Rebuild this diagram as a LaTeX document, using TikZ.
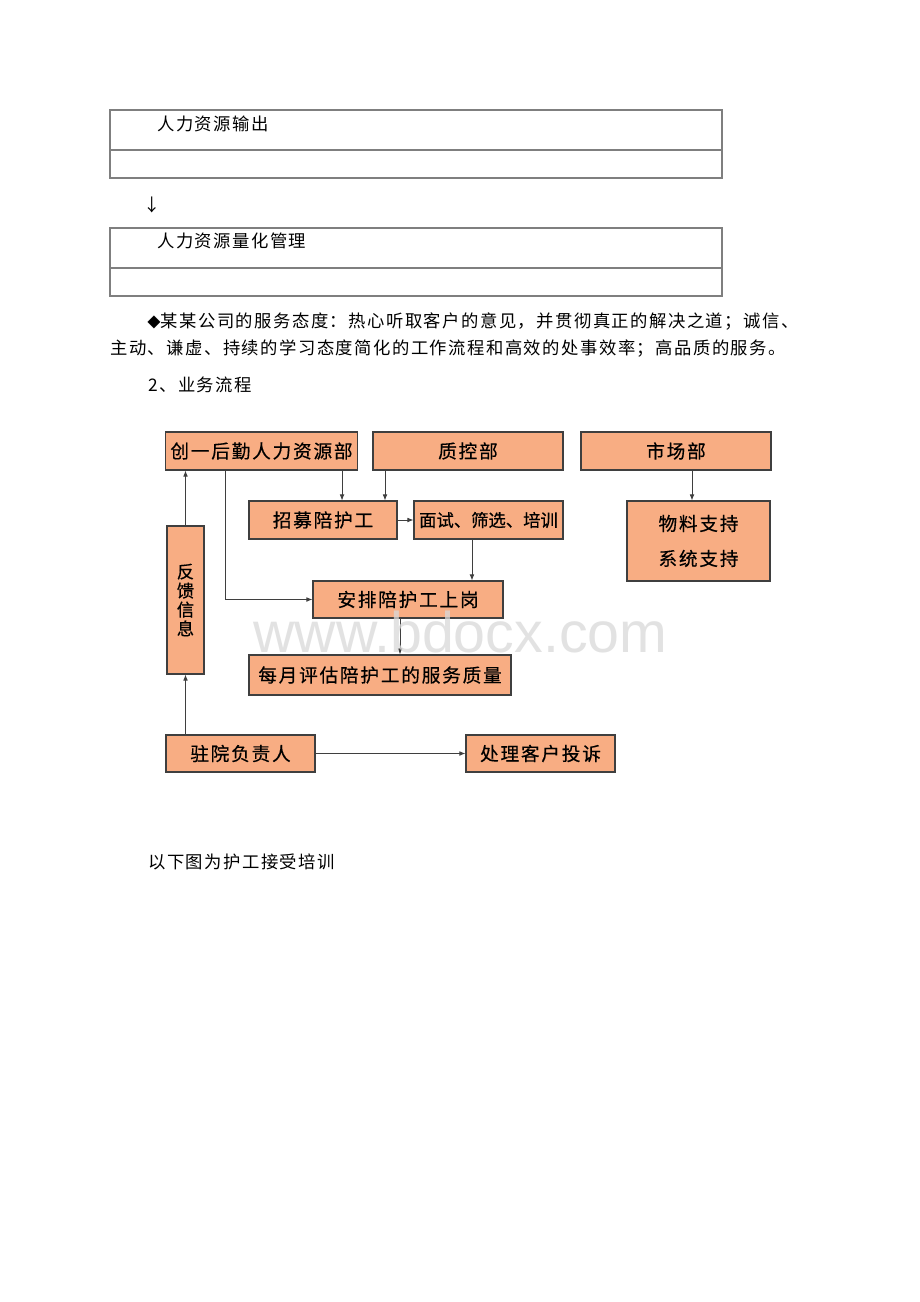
\documentclass[tikz,border=0pt]{standalone}
\usepackage{fontspec}
\newfontfamily\cjk{Noto Sans CJK SC}[LetterSpace=8.5]
\newfontfamily\cjkbox{Noto Sans CJK SC}[LetterSpace=9.5,FakeBold=0.4]
\newfontfamily\cjkplain{Noto Sans CJK SC}[FakeBold=0.4]
\newfontfamily\wmfont{Liberation Sans}
\usetikzlibrary{positioning}
\usetikzlibrary{arrows.meta}
\definecolor{boxfill}{HTML}{F8AD83}
\definecolor{boxline}{HTML}{3F3F3F}
\definecolor{tabline}{HTML}{7F7F7F}
\definecolor{wmgray}{HTML}{D9D9D9}

\tikzset{
  txt/.style={anchor=west,inner sep=0pt,font=\cjk\fontsize{13}{15}\selectfont},
  flow/.style={draw=boxline,line width=0.8pt,fill=boxfill,inner sep=0pt,
    font=\cjkbox\fontsize{14}{16}\selectfont},
  link/.style={draw=boxline,line width=0.6pt,-{Latex[length=4.5pt,width=3.5pt]}},
}

\begin{document}
\begin{tikzpicture}[x=0.75pt,y=-0.75pt]
  \fill[white] (0,0) rectangle (920,1302);
  \useasboundingbox (0,0) rectangle (920,1302);

  % two table rows at the top
  \draw[tabline,line width=0.8pt] (110,110) rectangle (722,178);
  \draw[tabline,line width=0.8pt] (110,150) -- (722,150);
  \node[txt] (out) at (157,124) {人力资源输出};
  \node[txt] (down) at (143,205) {↓};
  \draw[tabline,line width=0.8pt] (110,228) rectangle (722,296);
  \draw[tabline,line width=0.8pt] (110,268) -- (722,268);
  \node[txt] (quant) at (157,241) {人力资源量化管理};

  \node[txt] (att1) at (147,322) {{\fontsize{10}{12}\selectfont◆}某某公司的服务态度：热心听取客户的意见，并贯彻真正的解决之道；诚信、};
  \node[txt] (att2) at (110,349) {主动、谦虚、持续的学习态度简化的工作流程和高效的处事效率；高品质的服务。};
  \node[txt] (sec) at (148,385) {2、业务流程};

  % flow chart
  \node[flow,minimum width=144pt,minimum height=28.5pt] (hr) at (261.5,451) {创一后勤人力资源部};
  \node[flow,minimum width=142.5pt,minimum height=28.5pt] (qc) at (468,451) {质控部};
  \node[flow,minimum width=142.5pt,minimum height=28.5pt] (mkt) at (676,451) {市场部};
  \node[flow,minimum width=111pt,minimum height=28.5pt] (rec) at (323,520) {招募陪护工};
  \node[flow,minimum width=111.75pt,minimum height=28.5pt,font=\cjkplain\fontsize{13}{15}\selectfont] (intv) at (488.5,520) {面试、筛选、培训};
  \node[flow,minimum width=107.25pt,minimum height=60pt,align=center,
    font=\cjkbox\fontsize{14}{26.25}\selectfont] (mat) at (698.5,541) {物料支持\\系统支持};
  \node[flow,minimum width=27.75pt,minimum height=111pt,align=center,
    font=\cjkplain\fontsize{13}{14.25}\selectfont] (fb) at (185.5,600) {反\\馈\\信\\息};
  \node[flow,minimum width=142.5pt,minimum height=27.75pt] (arr) at (408,599.5) {安排陪护工上岗};
  \node[flow,minimum width=196.5pt,minimum height=30pt] (mon) at (380,675) {每月评估陪护工的服务质量};
  \node[flow,minimum width=111.75pt,minimum height=27.75pt] (res) at (240.5,753.5) {驻院负责人};
  \node[flow,minimum width=111.75pt,minimum height=27.75pt] (cmp) at (540.5,753.5) {处理客户投诉};

  \coordinate (hrR) at ([xshift=60.4pt]hr.south);
  \coordinate (hrL) at ([xshift=-27pt]hr.south);
  \coordinate (qcL) at ([xshift=-62.25pt]qc.south);
  \coordinate (intB) at ([xshift=-12.4pt]intv.south);
  \coordinate (arrB) at ([xshift=-6pt]arr.south);
  \coordinate (mktB) at ([xshift=12pt]mkt.south);

  \draw[link] (fb.north) -- (fb.north |- hr.south);
  \draw[link] (hrR) -- (hrR |- rec.north);
  \draw[link] (qcL) -- (qcL |- rec.north);
  \draw[link] (rec.east) -- (intv.west);
  \draw[link] (intB) -- (intB |- arr.north);
  \draw[link] (hrL) -- (hrL |- arr.west) -- (arr.west);
  \draw[link] (arrB) -- (arrB |- mon.north);
  \draw[link] (fb.south |- res.north) -- (fb.south);
  \draw[link] (res.east) -- (cmp.west);
  \draw[link] (mktB) -- (mktB |- mat.north);

  \node[anchor=base west,inner sep=0pt,text=wmgray,opacity=0.75,
    font=\wmfont\fontsize{43}{43}\selectfont] (wm) at (253,652) {www.bdocx.com};

  \node[txt] (train) at (148,862) {以下图为护工接受培训};
\end{tikzpicture}
\end{document}
